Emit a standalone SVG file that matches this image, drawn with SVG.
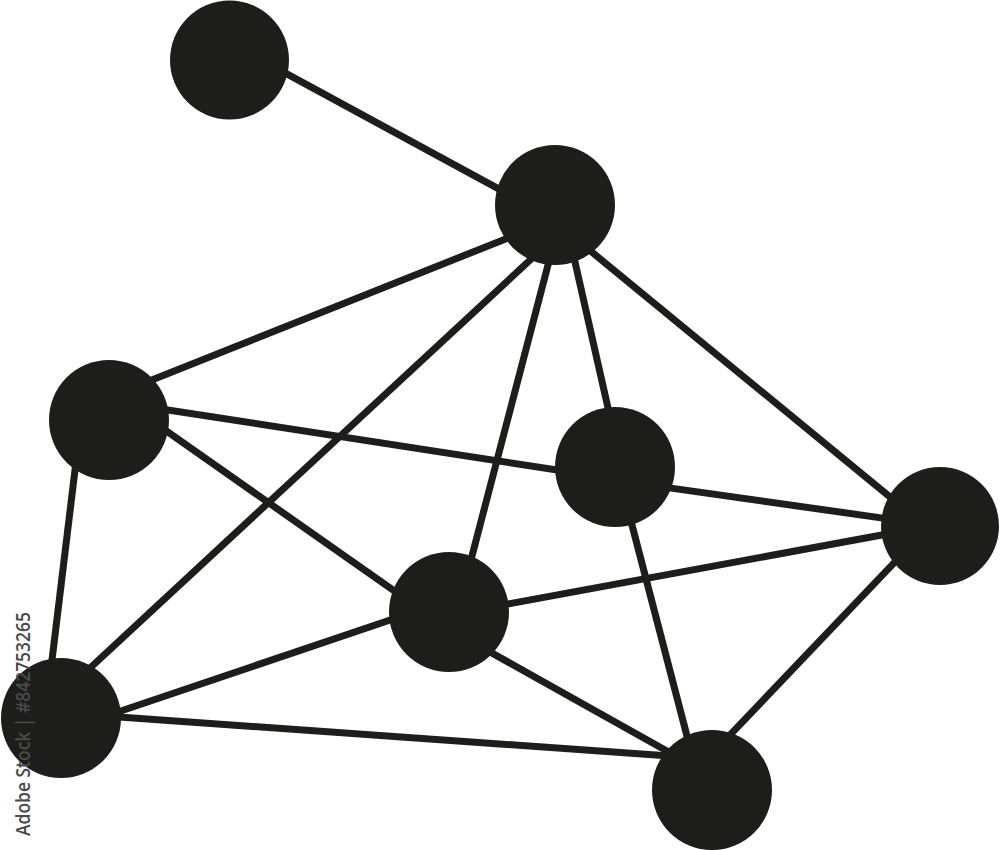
<svg xmlns="http://www.w3.org/2000/svg" width="1000" height="850" viewBox="0 0 1000 850">
<style>
.edge{stroke:#1d1d1b;stroke-width:7;fill:none;stroke-linecap:butt}
.node{fill:#1d1d1b}
.wm{font-family:"Open Sans","Liberation Sans",sans-serif;font-size:20px;font-weight:600;fill:#4a4a4a}
</style>
<rect width="1000" height="850" fill="#ffffff"/>
<g id="connectors">
<line class="edge" x1="275.8" y1="67.8" x2="510.2" y2="195.2"/>
<line class="edge" x1="517" y1="234.4" x2="138" y2="385.6"/>
<line class="edge" x1="539" y1="251.8" x2="79" y2="678.2"/>
<line class="edge" x1="551.8" y1="250.5" x2="468.2" y2="570.5"/>
<line class="edge" x1="571.7" y1="247.4" x2="611.3" y2="422.6"/>
<line class="edge" x1="581.4" y1="243.5" x2="901.6" y2="506.5"/>
<line class="edge" x1="153.2" y1="407.7" x2="571.8" y2="472.3"/>
<line class="edge" x1="152.7" y1="421.4" x2="405.3" y2="598.6"/>
<line class="edge" x1="76.8" y1="455.1" x2="50.2" y2="674.9"/>
<line class="edge" x1="655.1" y1="485.9" x2="896.9" y2="520.1"/>
<line class="edge" x1="628.2" y1="510.5" x2="691.8" y2="754.5"/>
<line class="edge" x1="493.3" y1="606.7" x2="896.7" y2="532.3"/>
<line class="edge" x1="404.2" y1="615.2" x2="103.8" y2="716.8"/>
<line class="edge" x1="478.9" y1="645.7" x2="678.1" y2="757.3"/>
<line class="edge" x1="105" y1="716" x2="670" y2="756"/>
<line class="edge" x1="902.4" y1="554.1" x2="719.6" y2="745.9"/>
</g>
<g id="node-a"><circle class="node" cx="229.5" cy="60" r="59.5"/></g>
<g id="node-b"><circle class="node" cx="555" cy="205" r="60"/></g>
<g id="node-c"><circle class="node" cx="109" cy="420" r="60"/></g>
<g id="node-d"><circle class="node" cx="615" cy="467" r="60"/></g>
<g id="node-e"><circle class="node" cx="940" cy="526" r="59"/></g>
<g id="node-f"><circle class="node" cx="449" cy="612" r="60"/></g>
<g id="node-g"><circle class="node" cx="61" cy="718" r="60"/></g>
<g id="node-h"><circle class="node" cx="712" cy="790" r="60"/></g>
<text class="wm" transform="translate(30,836) rotate(-90)" textLength="224" lengthAdjust="spacingAndGlyphs">Adobe Stock | #842753265</text>
</svg>
